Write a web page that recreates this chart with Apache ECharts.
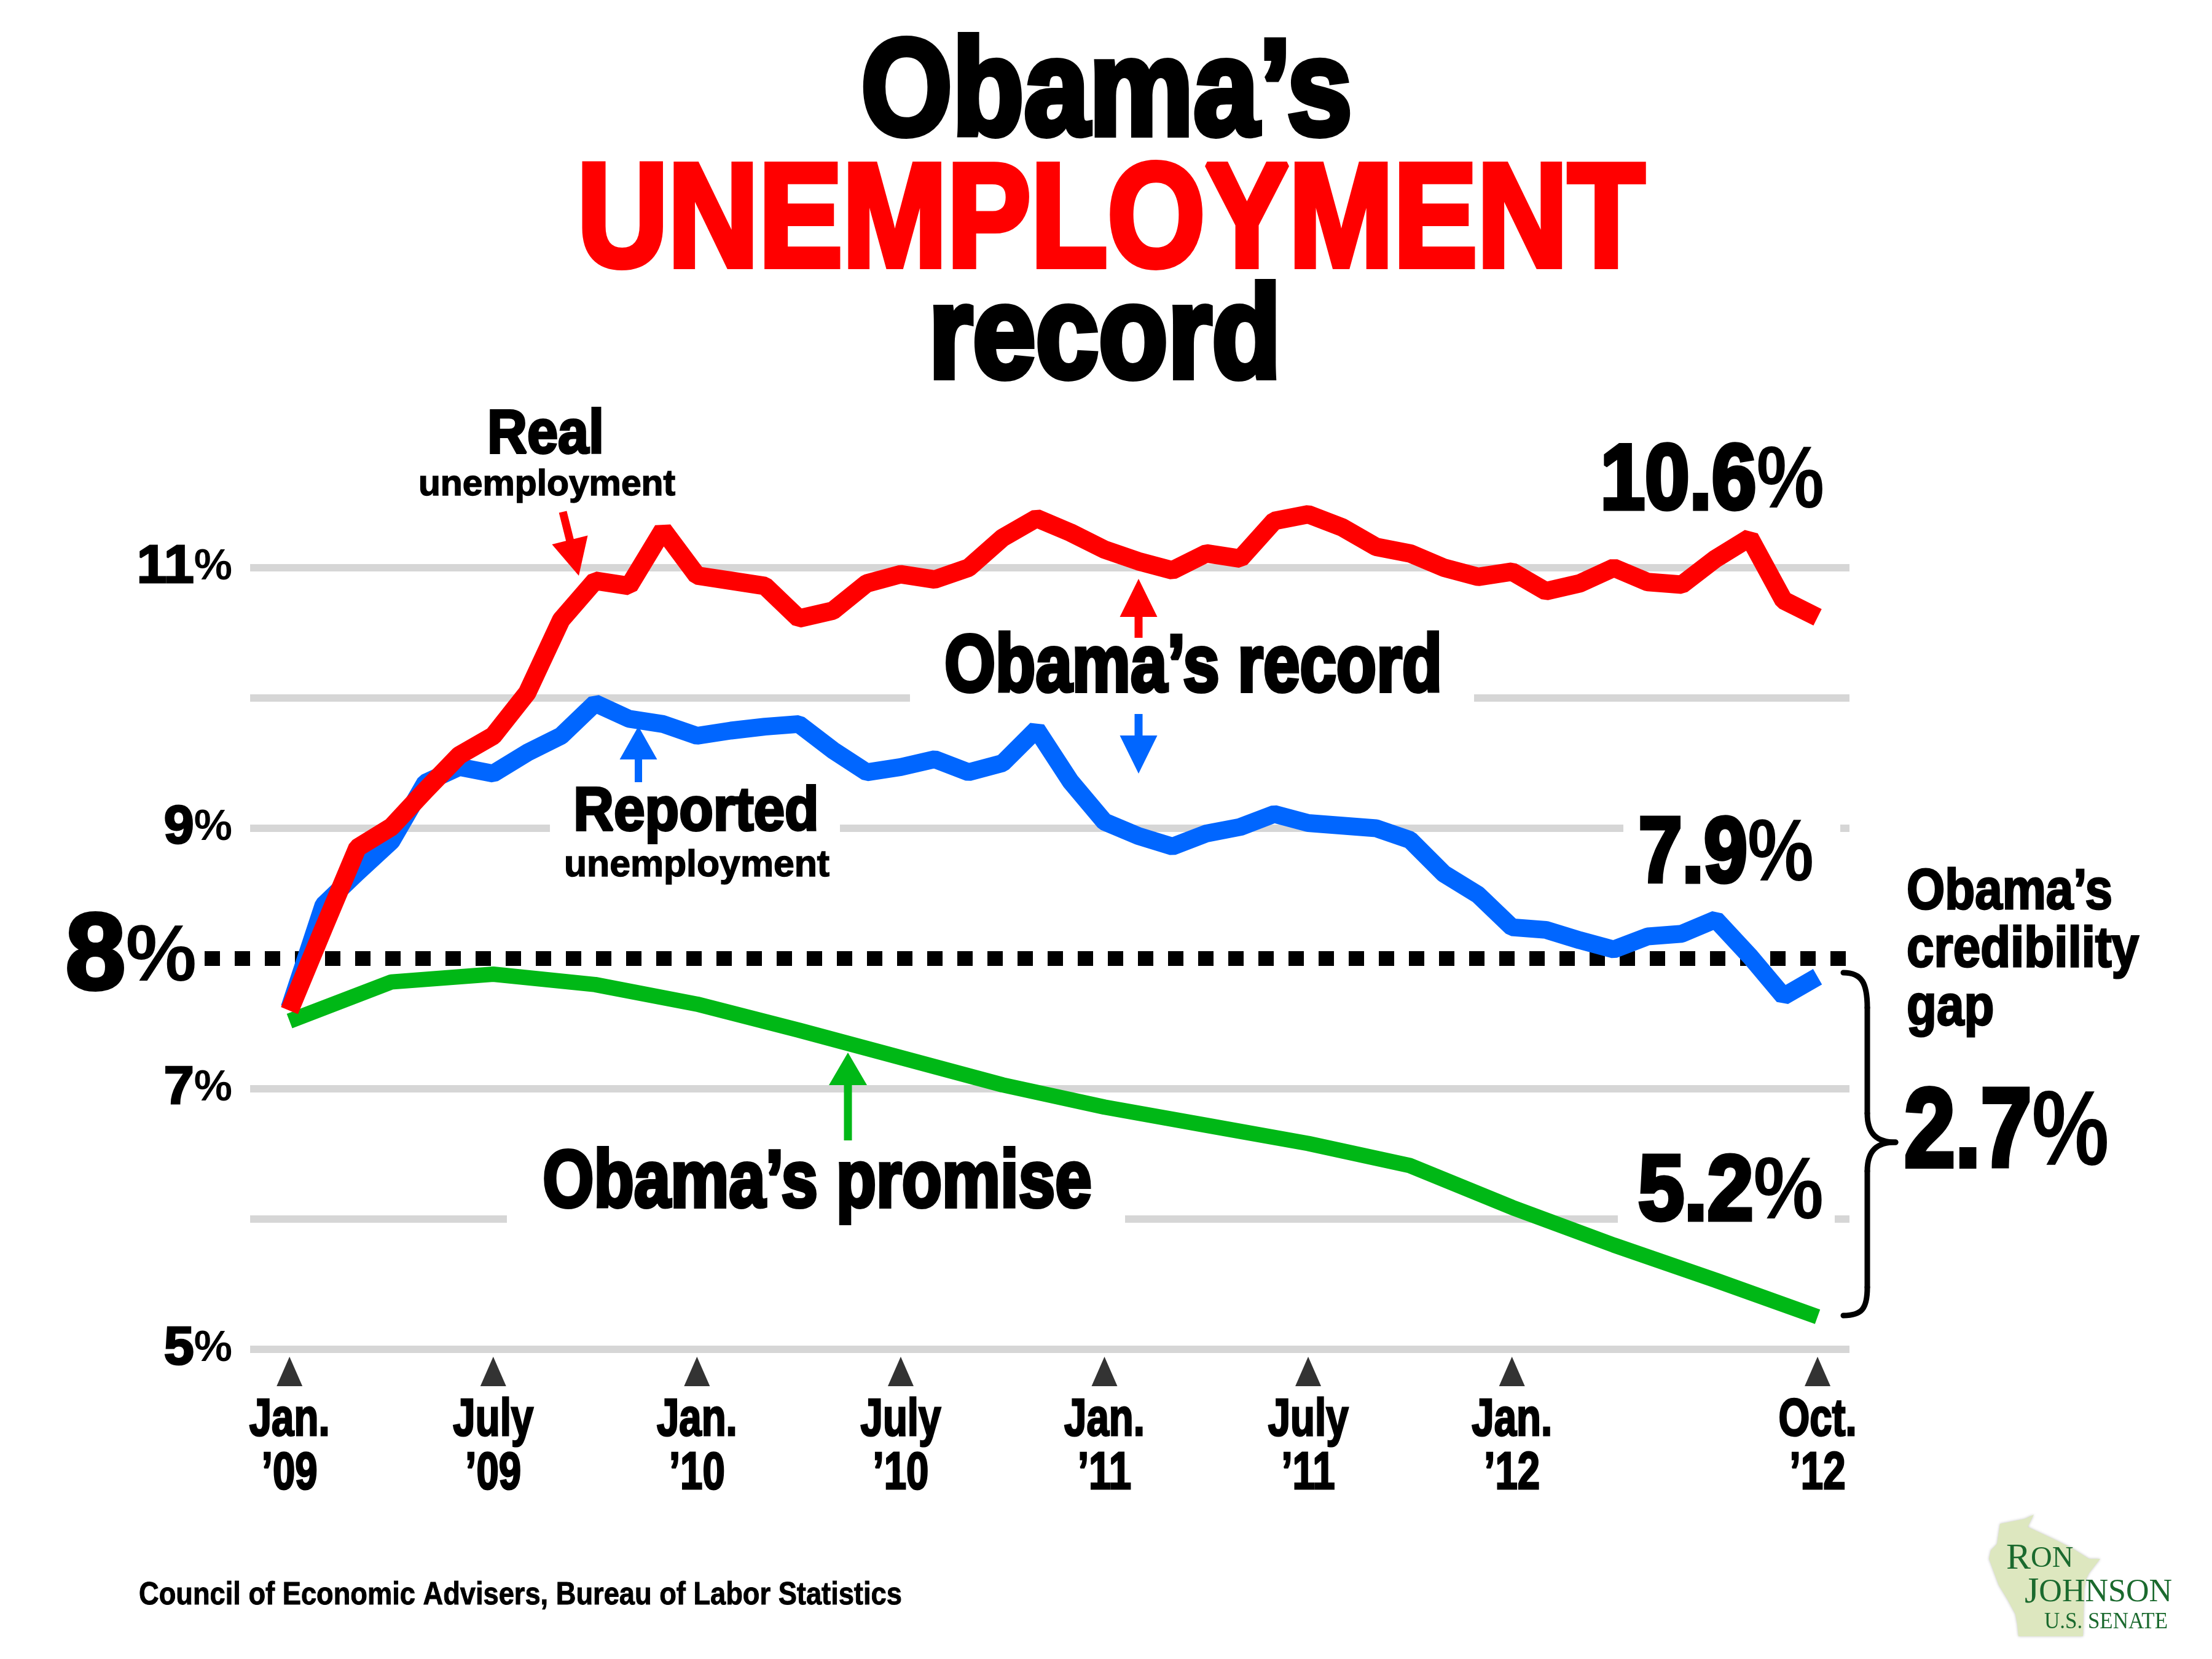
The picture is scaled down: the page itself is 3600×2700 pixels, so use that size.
<!DOCTYPE html>
<html>
<head>
<meta charset="utf-8">
<title>Obama's unemployment record</title>
<script src="https://cdn.jsdelivr.net/npm/echarts@6/dist/echarts.min.js"></script>
<style>
  html, body { margin: 0; padding: 0; background: #fff; }
  #chart { width: 3600px; height: 2700px; }
</style>
</head>
<body>
<div id="chart"></div>
<script>
// x = months since Jan. 2009 (0) up to Oct. 2012 (45)
const realRate = [7.60, 8.23, 8.85, 9.01, 9.29, 9.56, 9.71, 10.04, 10.60, 10.90,
  10.86, 11.29, 10.94, 10.90, 10.86, 10.61, 10.67, 10.88, 10.95, 10.91,
  11.00, 11.23, 11.38, 11.27, 11.14, 11.05, 10.98, 11.11, 11.07, 11.36,
  11.41, 11.31, 11.16, 11.11, 11.00, 10.93, 10.97, 10.82, 10.88, 11.00,
  10.89, 10.87, 11.07, 11.23, 10.75, 10.62];
const reportedRate = [7.62, 8.41, 8.66, 8.90, 9.35, 9.47, 9.42, 9.58, 9.71, 9.96,
  9.84, 9.80, 9.71, 9.75, 9.78, 9.80, 9.60, 9.43, 9.47, 9.53,
  9.43, 9.50, 9.76, 9.36, 9.05, 8.94, 8.86, 8.96, 9.01, 9.11,
  9.04, 9.02, 9.00, 8.91, 8.65, 8.49, 8.24, 8.22, 8.14, 8.07,
  8.17, 8.19, 8.30, 8.02, 7.71, 7.86];
const promiseMonths = [0, 3, 6, 9, 12, 15, 18, 21, 24, 27, 30, 33, 36, 39, 42, 45];
const promiseRate = [7.52, 7.82, 7.88, 7.80, 7.65, 7.45, 7.24, 7.03, 6.86, 6.72,
  6.58, 6.41, 6.09, 5.80, 5.53, 5.25];
const targetRate = 8;
const gridValues = [5, 6, 7, 9, 10, 11];
const yLabelValues = [5, 7, 9, 11];
const tickMonths = [0, 6, 12, 18, 24, 30, 36, 45];
const tickMonthLabels = ['Jan.', 'July', 'Jan.', 'July', 'Jan.', 'July', 'Jan.', 'Oct.'];
const tickYearLabels = ['’09', '’09', '’10', '’10', '’11', '’11', '’12', '’12'];

const X_MIN = -2.5, X_MAX = 45.94, GRID_START = -1.16;
const SANS = '"Liberation Sans", Arial, sans-serif';
const SERIF = '"Liberation Serif", serif';
const RED = '#ff0000', BLUE = '#0066ff', GREEN = '#00b816', GRID = '#d6d6d6';
const LOGO = '#1b6a2e';

function pairs(xs, ys) {
  return ys.map(function (v, i) { return [xs ? xs[i] : i, v]; });
}

// text placed by its baseline; scaleX squeezes the face, a stroke makes it heavier
function txt(x, baseline, text, size, o) {
  o = o || {};
  const fill = o.fill || '#000';
  return {
    type: 'text', x: x, y: baseline - 0.3465 * size, z: 20, silent: true,
    scaleX: o.scaleX || 1,
    style: {
      text: text,
      font: (o.weight || 'bold') + ' ' + size + 'px ' + (o.family || SANS),
      fill: fill,
      stroke: o.heavy ? fill : null,
      lineWidth: o.heavy || 0,
      lineJoin: 'round',
      align: o.align || 'center',
      verticalAlign: 'middle',
      rich: o.rich
    }
  };
}

function arrow(x1, y1, x2, y2, headLen, headW, shaftW, color) {
  const dx = x2 - x1, dy = y2 - y1, len = Math.hypot(dx, dy);
  const ux = dx / len, uy = dy / len, px = -uy, py = ux;
  const bx = x2 - ux * headLen, by = y2 - uy * headLen;
  const s = shaftW / 2, h = headW / 2;
  return {
    type: 'polygon', z: 20, silent: true,
    shape: { points: [
      [x1 + px * s, y1 + py * s], [bx + px * s, by + py * s], [bx + px * h, by + py * h],
      [x2, y2], [bx - px * h, by - py * h], [bx - px * s, by - py * s], [x1 - px * s, y1 - py * s]
    ] },
    style: { fill: color }
  };
}

function mask(x1, x2, yc) {
  return { type: 'rect', z: 2, silent: true, shape: { x: x1, y: yc - 10, width: x2 - x1, height: 20 }, style: { fill: '#fff' } };
}

const braceStyle = { stroke: '#000', lineWidth: 9, fill: null, lineCap: 'round' };
function curve(x1, y1, c1x, c1y, c2x, c2y, x2, y2) {
  return { type: 'bezierCurve', z: 20, silent: true, style: braceStyle,
    shape: { x1: x1, y1: y1, cpx1: c1x, cpy1: c1y, cpx2: c2x, cpy2: c2y, x2: x2, y2: y2 } };
}
function seg(x1, y1, x2, y2) {
  return { type: 'line', z: 20, silent: true, style: braceStyle, shape: { x1: x1, y1: y1, x2: x2, y2: y2 } };
}

// big value labels: heavy digits, lighter percent sign
function pctRich(size, heavy) {
  return {
    d: { font: 'bold ' + size + 'px ' + SANS, fill: '#000', stroke: '#000', lineWidth: heavy, lineJoin: 'round' },
    p: { font: 'bold ' + Math.round(size * 0.95) + 'px ' + SANS, fill: '#000' }
  };
}

const chart = echarts.init(document.getElementById('chart'));

const gridSeries = gridValues.map(function (v) {
  return {
    type: 'line', data: [[GRID_START, v], [X_MAX, v]], symbol: 'none', silent: true, z: 1,
    lineStyle: { color: GRID, width: 12 }
  };
});

chart.setOption({
  backgroundColor: '#fff',
  animation: false,
  grid: { left: 333, right: 590, top: 924, bottom: 504, containLabel: false },
  xAxis: {
    type: 'value', min: X_MIN, max: X_MAX,
    axisLine: { show: false }, axisTick: { show: false }, splitLine: { show: false },
    axisLabel: { show: false }
  },
  yAxis: {
    type: 'value', min: 5, max: 11, interval: 1,
    axisLine: { show: false }, axisTick: { show: false }, splitLine: { show: false },
    axisLabel: {
      margin: -45,
      color: '#000',
      formatter: function (v) {
        if (v === targetRate) return '{big|' + v + '}{bigp|%}';
        return yLabelValues.indexOf(v) >= 0 ? '{n|' + v + '}{p|%}' : '';
      },
      rich: {
        n: { fontFamily: SANS, fontWeight: 'bold', fontSize: 88, textBorderColor: '#000', textBorderWidth: 3 },
        p: { fontFamily: SANS, fontWeight: 'bold', fontSize: 70 },
        big: { fontFamily: SANS, fontWeight: 'bold', fontSize: 176, textBorderColor: '#000', textBorderWidth: 6 },
        bigp: { fontFamily: SANS, fontWeight: 'bold', fontSize: 130, padding: [0, 58, 0, 0] }
      }
    }
  },
  series: gridSeries.concat([
    {
      name: 'Target', type: 'line', data: [[X_MIN, targetRate], [X_MAX, targetRate]],
      symbol: 'none', silent: true, z: 2,
      lineStyle: { color: '#000', width: 24, type: [25, 24], cap: 'butt' }
    },
    {
      name: 'Obama’s promise', type: 'line', data: pairs(promiseMonths, promiseRate),
      symbol: 'none', clip: false, z: 3, lineStyle: { color: GREEN, width: 25 }
    },
    {
      name: 'Reported unemployment', type: 'line', data: pairs(null, reportedRate),
      symbol: 'none', clip: false, z: 4, lineStyle: { color: BLUE, width: 29 }
    },
    {
      name: 'Real unemployment', type: 'line', data: pairs(null, realRate),
      symbol: 'none', clip: false, z: 5, lineStyle: { color: RED, width: 30 }
    },
    {
      name: 'ticks', type: 'scatter', data: tickMonths.map(function (m) { return [m, 5]; }),
      symbol: 'triangle', symbolSize: [42, 48], symbolOffset: [0, 36], clip: false, silent: true, z: 5,
      itemStyle: { color: '#000' }
    }
  ])
});

// month labels under the triangles, placed through the x scale
const axisY = chart.convertToPixel({ yAxisIndex: 0 }, 5);
const monthLabels = [];
tickMonths.forEach(function (m, i) {
  const x = chart.convertToPixel({ xAxisIndex: 0 }, m);
  monthLabels.push(txt(x, axisY + 146, tickMonthLabels[i], 86, { scaleX: 0.76, heavy: 3 }));
  monthLabels.push(txt(x, axisY + 233, tickYearLabels[i], 86, { scaleX: 0.76, heavy: 3 }));
});

chart.setOption({
  graphic: monthLabels.concat([
    // breaks in the grid lines behind the labels
    mask(1481, 2399, 1136),
    mask(895, 1367, 1348), mask(2642, 2995, 1348),
    mask(825, 1831, 1984), mask(2633, 2986, 1984),

    // title
    txt(1801, 235, 'Obama’s', 222, { scaleX: 0.86, heavy: 10 }),
    txt(1808, 450, 'UNEMPLOYMENT', 239, { fill: RED, scaleX: 0.855, heavy: 10 }),
    txt(1798, 629, 'record', 213, { scaleX: 0.865, heavy: 10 }),

    // line annotations
    txt(888, 744, 'Real', 100, { scaleX: 0.9, heavy: 4 }),
    txt(890, 810, 'unemployment', 60, { scaleX: 0.98, heavy: 1.5 }),
    arrow(916, 833, 942, 937, 60, 60, 13, RED),

    txt(1133, 1358, 'Reported', 100, { scaleX: 0.91, heavy: 4 }),
    txt(1134, 1430, 'unemployment', 62, { scaleX: 0.98, heavy: 1.5 }),
    arrow(1039, 1273, 1039, 1182, 54, 61, 12, BLUE),

    txt(1942, 1134, 'Obama’s record', 132, { scaleX: 0.81, heavy: 6 }),
    arrow(1853, 1038, 1853, 942, 62, 61, 13, RED),
    arrow(1853, 1162, 1853, 1259, 62, 61, 13, BLUE),

    txt(1330, 1973, 'Obama’s promise', 132, { scaleX: 0.81, heavy: 6 }),
    arrow(1380, 1856, 1380, 1713, 53, 62, 13, GREEN),

    txt(2969, 839, '{d|10.6}{p|%}', 150, { align: 'right', scaleX: 0.87, rich: pctRich(150, 7) }),
    txt(2952, 1446, '{d|7.9}{p|%}', 150, { align: 'right', scaleX: 0.85, rich: pctRich(150, 7) }),
    txt(2968, 1996, '{d|5.2}{p|%}', 150, { align: 'right', scaleX: 0.9, rich: pctRich(150, 7) }),

    // credibility gap brace
    curve(3000, 1583, 3030, 1583, 3039, 1600, 3039, 1640),
    seg(3039, 1640, 3039, 1812),
    curve(3039, 1812, 3039, 1846, 3055, 1859, 3085, 1859),
    curve(3085, 1859, 3055, 1859, 3039, 1872, 3039, 1906),
    seg(3039, 1906, 3039, 2095),
    curve(3039, 2095, 3039, 2130, 3030, 2141, 3000, 2141),
    txt(3103, 1486, 'Obama’s', 92, { align: 'left', scaleX: 0.87, heavy: 3 }),
    txt(3103, 1580, 'credibility', 92, { align: 'left', scaleX: 0.87, heavy: 3 }),
    txt(3103, 1675, 'gap', 92, { align: 'left', scaleX: 0.87, heavy: 3 }),
    txt(3099, 1911, '{d|2.7}{p|%}', 182, { align: 'left', scaleX: 0.82, rich: pctRich(182, 8) }),

    // source
    txt(226, 2615, 'Council of Economic Advisers, Bureau of Labor Statistics', 52, { align: 'left', scaleX: 0.87, heavy: 1 }),

    // logo
    {
      type: 'polygon', z: 10, silent: true,
      shape: { points: [[3255, 2480], [3295, 2472], [3310, 2465], [3300, 2485], [3347, 2507], [3373, 2520],
        [3400, 2537], [3418, 2537], [3400, 2560], [3395, 2570], [3392, 2587], [3390, 2663], [3285, 2663],
        [3283, 2643], [3280, 2627], [3267, 2603], [3253, 2580], [3237, 2537], [3240, 2523], [3250, 2513], [3253, 2493]] },
      style: { fill: '#dde7bf', shadowBlur: 4, shadowColor: 'rgba(0,0,0,0.25)' }
    },
    txt(3265, 2558, '{b|R}{s|ON}', 60, { align: 'left', weight: 'normal', family: SERIF, fill: LOGO,
      rich: { b: { font: '60px ' + SERIF, fill: LOGO }, s: { font: '48px ' + SERIF, fill: LOGO } } }),
    txt(3295, 2613, '{b|J}{s|OHNSON}', 60, { align: 'left', weight: 'normal', family: SERIF, fill: LOGO,
      rich: { b: { font: '60px ' + SERIF, fill: LOGO }, s: { font: '52px ' + SERIF, fill: LOGO } } }),
    txt(3327, 2653, 'U.S. SENATE', 38, { align: 'left', weight: 'normal', family: SERIF, fill: LOGO, scaleX: 0.92 })
  ])
});
</script>
</body>
</html>
